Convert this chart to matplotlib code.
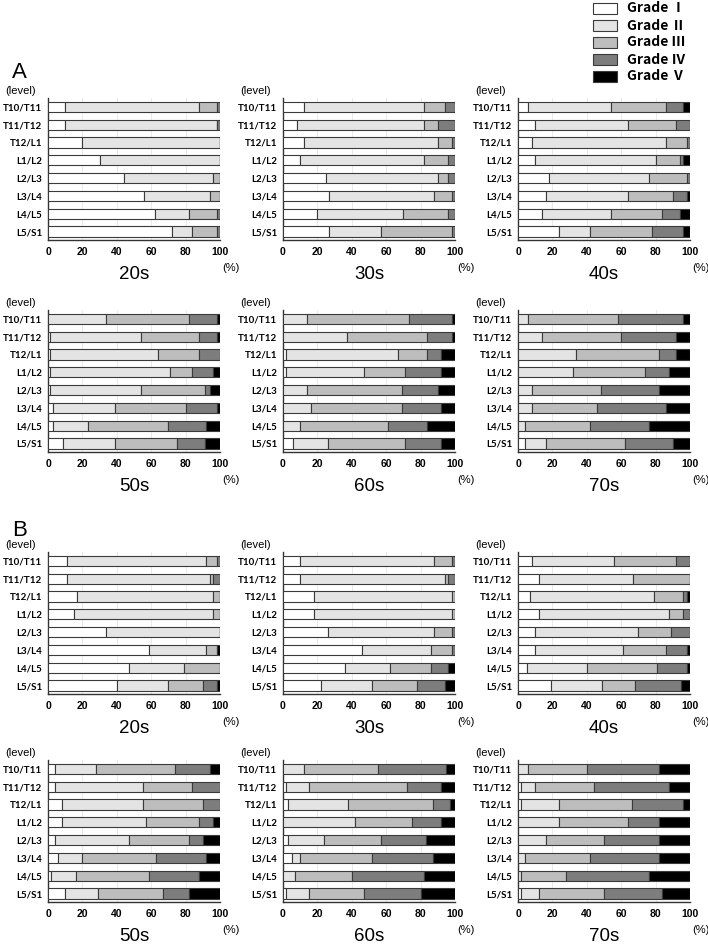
import matplotlib
matplotlib.use("Agg")
import matplotlib.pyplot as plt
from matplotlib.patches import Rectangle
import numpy as np

# levels from top to bottom
levels = ["T10/T11", "T11/T12", "T12/L1", "L1/L2", "L2/L3", "L3/L4", "L4/L5", "L5/S1"]
grades = ["Grade Ⅰ", "Grade Ⅱ", "Grade Ⅲ", "Grade Ⅳ", "Grade Ⅴ"]
ages = ["20s", "30s", "40s", "50s", "60s", "70s"]

# percentages per level: Grade I, II, III, IV, V
a_20s = [[10, 78, 10, 2, 0], [10, 88, 0, 2, 0], [20, 80, 0, 0, 0], [30, 70, 0, 0, 0],
         [44, 52, 4, 0, 0], [56, 38, 6, 0, 0], [62, 20, 16, 2, 0], [72, 12, 14, 2, 0]]
a_30s = [[12, 70, 12, 6, 0], [8, 74, 8, 10, 0], [12, 78, 8, 2, 0], [10, 72, 14, 4, 0],
         [25, 65, 6, 4, 0], [27, 61, 10, 2, 0], [20, 50, 26, 4, 0], [27, 30, 41, 2, 0]]
a_40s = [[6, 48, 32, 10, 4], [10, 54, 28, 8, 0], [8, 78, 12, 2, 0], [10, 70, 14, 2, 4],
         [18, 58, 22, 2, 0], [16, 48, 26, 8, 2], [14, 40, 30, 10, 6], [24, 18, 36, 18, 4]]
a_50s = [[0, 34, 48, 16, 2], [1, 53, 34, 10, 2], [1, 63, 24, 12, 0], [1, 70, 13, 12, 4],
         [1, 53, 37, 3, 6], [3, 36, 41, 18, 2], [3, 20, 47, 22, 8], [9, 30, 36, 16, 9]]
a_60s = [[0, 14, 59, 25, 2], [0, 37, 47, 14, 2], [2, 65, 17, 8, 8], [2, 45, 24, 21, 8],
         [0, 14, 55, 21, 10], [0, 16, 53, 23, 8], [0, 10, 51, 23, 16], [6, 20, 45, 21, 8]]
a_70s = [[0, 6, 52, 38, 4], [0, 14, 46, 32, 8], [0, 34, 48, 10, 8], [0, 32, 42, 14, 12],
         [0, 8, 40, 34, 18], [0, 8, 38, 40, 14], [0, 4, 38, 34, 24], [4, 12, 46, 28, 10]]

b_20s = [[11, 81, 6, 2, 0], [11, 83, 2, 4, 0], [17, 79, 4, 0, 0], [15, 81, 4, 0, 0],
         [34, 66, 0, 0, 0], [59, 33, 6, 0, 2], [47, 32, 21, 0, 0], [40, 30, 20, 8, 2]]
b_30s = [[10, 78, 10, 2, 0], [10, 84, 2, 4, 0], [18, 80, 2, 0, 0], [18, 80, 2, 0, 0],
         [26, 62, 10, 2, 0], [46, 40, 12, 2, 0], [36, 26, 24, 10, 4], [22, 30, 26, 16, 6]]
b_40s = [[8, 48, 36, 8, 0], [12, 55, 33, 0, 0], [7, 72, 17, 2, 2], [12, 76, 8, 4, 0],
         [10, 60, 19, 11, 0], [10, 51, 25, 12, 2], [5, 35, 41, 17, 2], [19, 30, 19, 27, 5]]
b_50s = [[4, 24, 46, 20, 6], [4, 51, 29, 16, 0], [8, 47, 35, 10, 0], [8, 49, 31, 8, 4],
         [4, 43, 35, 8, 10], [6, 14, 43, 29, 8], [2, 14, 43, 29, 12], [10, 19, 38, 15, 18]]
b_60s = [[0, 12, 43, 40, 5], [2, 13, 57, 20, 8], [3, 35, 49, 10, 3], [0, 42, 33, 17, 8],
         [3, 21, 33, 26, 17], [5, 5, 42, 35, 13], [0, 7, 33, 42, 18], [2, 13, 32, 33, 20]]
b_70s = [[0, 6, 34, 42, 18], [2, 8, 34, 44, 12], [2, 22, 42, 30, 4], [0, 24, 40, 18, 18],
         [0, 16, 34, 32, 18], [0, 4, 38, 40, 18], [0, 2, 26, 48, 24], [2, 10, 38, 34, 16]]

colors = ["#ffffff", "#e4e4e4", "#bdbdbd", "#7d7d7d", "#000000"]

W, H = 708, 951
fig = plt.figure(figsize=(W / 100, H / 100), dpi=100)

col_left = [48, 283, 518]
row_top = [98, 310, 552, 760]
ax_w, ax_h = 172, 142.4


def px(x, y):
    return x / W, 1 - y / H


def draw_panel(left, top, data, title):
    ax = fig.add_axes([left / W, 1 - (top + ax_h) / H, ax_w / W, ax_h / H])
    vals = np.array(data, dtype=float)
    y = np.arange(len(levels))
    start = np.zeros(len(levels))
    for g in range(len(grades)):
        ax.barh(y, vals[:, g], left=start, height=0.58, color=colors[g],
                edgecolor="#3a3a3a", linewidth=0.8, zorder=3)
        start += vals[:, g]
    ax.set_xlim(0, 100)
    ax.set_ylim(len(levels) - 0.5, -0.5)
    ax.set_xticks([0, 20, 40, 60, 80, 100])
    ax.set_yticks(y)
    ax.set_yticklabels(levels, fontfamily="Lato", fontweight="bold", fontsize=7)
    for lab in ax.get_xticklabels():
        lab.set_fontfamily("Liberation Sans")
        lab.set_fontweight("bold")
        lab.set_fontsize(7.5)
    ax.tick_params(axis="y", length=0, pad=4)
    ax.tick_params(axis="x", length=0, pad=5)
    ax.grid(axis="x", color="#e6e6e6", linewidth=0.6, zorder=0)
    for s in ["top", "right"]:
        ax.spines[s].set_visible(False)
    for s in ["left", "bottom"]:
        ax.spines[s].set_color("#333333")
        ax.spines[s].set_linewidth(1.0)
    bottom = top + ax_h
    fig.text(*px(left - 27, top - 7), "(level)", ha="center", va="center",
             fontfamily="Liberation Sans", fontsize=8)
    fig.text(*px(left + ax_w / 2, bottom + 34), title, ha="center", va="center",
             fontfamily="Liberation Sans", fontsize=13.5)
    fig.text(*px(left + ax_w + 11, bottom + 28), "(%)", ha="center", va="center",
             fontfamily="Liberation Sans", fontsize=8)


group_a = [a_20s, a_30s, a_40s, a_50s, a_60s, a_70s]
group_b = [b_20s, b_30s, b_40s, b_50s, b_60s, b_70s]

for i, data in enumerate(group_a):
    draw_panel(col_left[i % 3], row_top[i // 3], data, ages[i])
for i, data in enumerate(group_b):
    draw_panel(col_left[i % 3], row_top[2 + i // 3], data, ages[i])

fig.text(*px(12, 72), "A", ha="left", va="center", fontfamily="Liberation Sans", fontsize=16)
fig.text(*px(12, 530), "B", ha="left", va="center", fontfamily="Liberation Sans", fontsize=16)

# legend
for k, g in enumerate(grades):
    yc = 8.5 + k * 17
    x0, y0 = px(593, yc + 5)
    fig.add_artist(Rectangle((x0, y0), 24 / W, 10 / H, transform=fig.transFigure,
                             facecolor=colors[k], edgecolor="#3a3a3a", linewidth=0.8))
    fig.text(*px(627, yc), g, ha="left", va="center", fontsize=10, fontweight="bold",
             family=["Noto Sans CJK JP", "DejaVu Sans"])

fig.savefig("out.png", dpi=100)
